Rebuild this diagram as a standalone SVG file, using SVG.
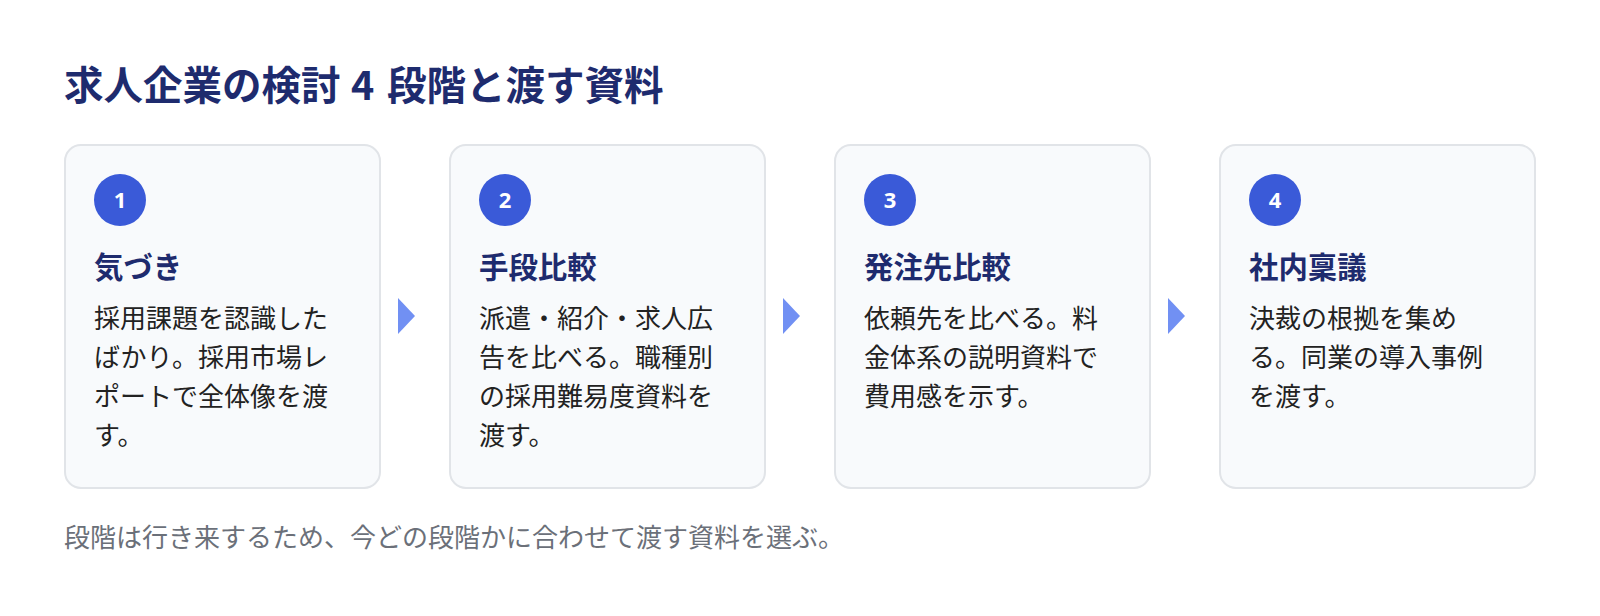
<svg xmlns="http://www.w3.org/2000/svg" width="1600" height="616" viewBox="0 0 1600 616">
  <style>
    .title { font-family: "Noto Sans CJK JP", "Noto Sans", sans-serif; font-size: 39.5px; font-weight: 700; fill: #1e2b6e; }
    .card { fill: #f8fafc; stroke: #e1e4e8; stroke-width: 2; }
    .badge { fill: #3a5ad8; }
    .num { font-family: "Noto Sans", "Noto Sans CJK JP", sans-serif; font-size: 22px; font-weight: 700; fill: #ffffff; text-anchor: middle; }
    .head { font-family: "Noto Sans CJK JP", sans-serif; font-size: 29.4px; font-weight: 700; fill: #1e2b6e; }
    .body { font-family: "Noto Sans CJK JP", sans-serif; font-size: 26px; font-weight: 400; fill: #222222; }
    .note { font-family: "Noto Sans CJK JP", sans-serif; font-size: 26px; font-weight: 400; fill: #6b7079; }
    .arrow { fill: #7190f3; }
  </style>
  <rect width="1600" height="616" fill="#ffffff"/>
  <text class="title" y="100"><tspan x="64">求人企業の検討</tspan><tspan x="351">4</tspan><tspan x="387">段階と渡す資料</tspan></text>

  <g id="stage1">
    <rect class="card" x="65" y="145" width="315" height="343" rx="16"/>
    <circle class="badge" cx="120" cy="200" r="26"/>
    <text class="num" x="120" y="208">1</text>
    <text class="head" x="94" y="278">気づき</text>
    <text class="body" x="94" y="328">採用課題を認識した</text>
    <text class="body" x="94" y="367">ばかり。採用市場レ</text>
    <text class="body" x="94" y="406">ポートで全体像を渡</text>
    <text class="body" x="94" y="445">す。</text>
  </g>

  <g id="stage2">
    <rect class="card" x="450" y="145" width="315" height="343" rx="16"/>
    <circle class="badge" cx="505" cy="200" r="26"/>
    <text class="num" x="505" y="208">2</text>
    <text class="head" x="479" y="278">手段比較</text>
    <text class="body" x="479" y="328">派遣・紹介・求人広</text>
    <text class="body" x="479" y="367">告を比べる。職種別</text>
    <text class="body" x="479" y="406">の採用難易度資料を</text>
    <text class="body" x="479" y="445">渡す。</text>
  </g>

  <g id="stage3">
    <rect class="card" x="835" y="145" width="315" height="343" rx="16"/>
    <circle class="badge" cx="890" cy="200" r="26"/>
    <text class="num" x="890" y="208">3</text>
    <text class="head" x="864" y="278">発注先比較</text>
    <text class="body" x="864" y="328">依頼先を比べる。料</text>
    <text class="body" x="864" y="367">金体系の説明資料で</text>
    <text class="body" x="864" y="406">費用感を示す。</text>
  </g>

  <g id="stage4">
    <rect class="card" x="1220" y="145" width="315" height="343" rx="16"/>
    <circle class="badge" cx="1275" cy="200" r="26"/>
    <text class="num" x="1275" y="208">4</text>
    <text class="head" x="1249" y="278">社内稟議</text>
    <text class="body" x="1249" y="328">決裁の根拠を集め</text>
    <text class="body" x="1249" y="367">る。同業の導入事例</text>
    <text class="body" x="1249" y="406">を渡す。</text>
  </g>

  <g id="connectors">
    <polygon class="arrow" points="398,298 415,316 398,334"/>
    <polygon class="arrow" points="783,298 800,316 783,334"/>
    <polygon class="arrow" points="1168,298 1185,316 1168,334"/>
  </g>

  <text class="note" x="64" y="547">段階は行き来するため、今どの段階かに合わせて渡す資料を選ぶ。</text>
</svg>
